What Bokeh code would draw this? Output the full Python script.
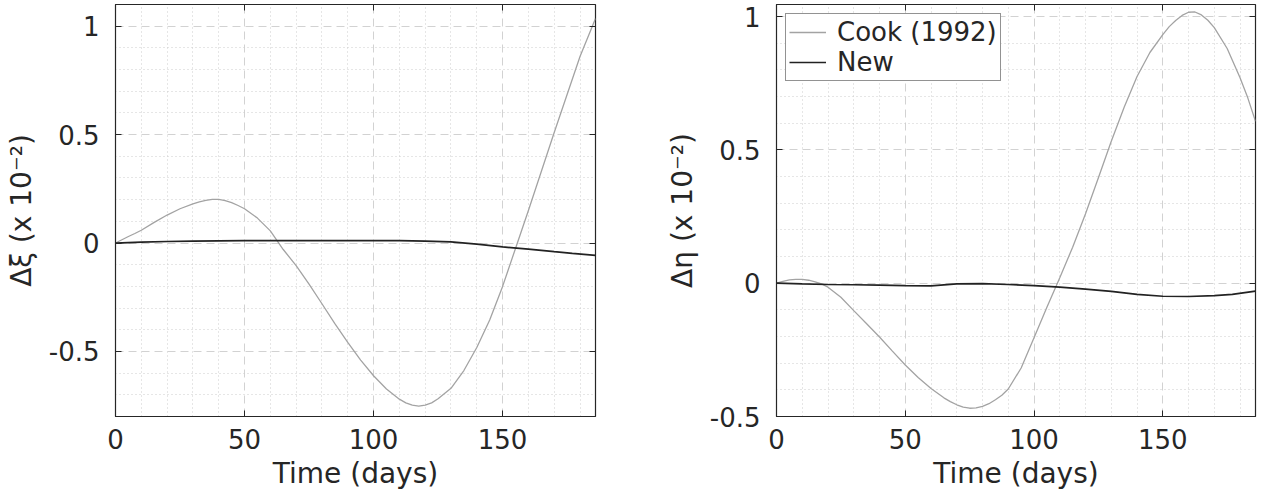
from bokeh.plotting import figure
from bokeh.models import LinearAxis, FixedTicker, Range1d, CustomLabelingPolicy
from bokeh.layouts import row
from bokeh.embed import file_html
from bokeh.resources import INLINE

# ---------------- data ----------------
t_xi_cook = [0, 2.5, 5, 7.5, 10, 15, 20, 25, 30, 32.5, 35, 37.5, 40, 42.5, 45, 47.5, 50, 55, 60,
             65, 70, 75, 80, 85, 90, 95, 100, 105, 110, 112.5, 115, 117.5, 120, 122.5, 125,
             130, 135, 140, 145, 150, 155, 160, 165, 170, 175, 180, 186]
xi_cook = [0, 0.015, 0.030, 0.044, 0.059, 0.095, 0.129, 0.158, 0.181, 0.190, 0.197, 0.201,
           0.201, 0.196, 0.186, 0.173, 0.158, 0.115, 0.056, -0.030, -0.104, -0.190, -0.280,
           -0.372, -0.458, -0.540, -0.612, -0.673, -0.720, -0.737, -0.748, -0.752, -0.748,
           -0.737, -0.718, -0.670, -0.588, -0.482, -0.355, -0.200, -0.025, 0.150, 0.330,
           0.510, 0.685, 0.860, 1.035]

t_eta_cook = [0, 2.5, 5, 7.5, 10, 12.5, 15, 17.5, 20, 25, 30, 35, 40, 45, 50, 55, 60, 65, 67.5,
              70, 72.5, 75, 77.5, 80, 82.5, 85, 87.5, 90, 95, 100, 105, 110, 115, 120, 125, 130,
              135, 140, 145, 150, 152.5, 155, 157.5, 160, 162.5, 165, 167.5, 170, 175, 180, 183, 186]
eta_cook = [0, 0.007, 0.012, 0.0145, 0.014, 0.011, 0.005, -0.003, -0.015, -0.053, -0.103,
            -0.152, -0.202, -0.255, -0.307, -0.354, -0.395, -0.430, -0.444, -0.456, -0.465,
            -0.469, -0.468, -0.462, -0.452, -0.437, -0.420, -0.397, -0.318, -0.205, -0.090,
            0.020, 0.135, 0.260, 0.395, 0.532, 0.660, 0.775, 0.865, 0.932, 0.962, 0.985,
            1.004, 1.016, 1.017, 1.006, 0.986, 0.958, 0.880, 0.770, 0.695, 0.607]

t_new = [0, 10, 20, 30, 40, 50, 60, 70, 80, 90, 100, 110, 120, 130, 140, 150, 160, 170, 177, 186]
xi_new = [0, 0.004, 0.007, 0.009, 0.010, 0.011, 0.011, 0.011, 0.011, 0.011, 0.011, 0.011,
          0.009, 0.005, -0.005, -0.018, -0.028, -0.040, -0.048, -0.057]
eta_new = [0, -0.003, -0.005, -0.006, -0.007, -0.009, -0.010, -0.003, -0.002, -0.005, -0.009,
           -0.015, -0.022, -0.031, -0.042, -0.049, -0.050, -0.047, -0.042, -0.030]

x_major = [0, 50, 100, 150]
x_minor = [10, 20, 30, 40, 60, 70, 80, 90, 110, 120, 130, 140, 160, 170, 180]
y_major = [-0.5, 0, 0.5, 1]
y_labels = {-0.5: "-0.5", 0: "0", 0.5: "0.5", 1: "1"}
y_minor_left = [-0.8, -0.7, -0.6, -0.4, -0.3, -0.2, -0.1, 0.1, 0.2, 0.3, 0.4, 0.6, 0.7, 0.8, 0.9, 1.1]
y_minor_right = [-0.4, -0.3, -0.2, -0.1, 0.1, 0.2, 0.3, 0.4, 0.6, 0.7, 0.8, 0.9]

FONT = "DejaVu Sans"
AX = "#262626"
COOK_C = "#a3a3a3"
NEW_C = "#222222"


def make_fig(width, bl, br, yr, ylabel, yminor):
    p = figure(width=width, height=500, output_backend="svg", toolbar_location=None,
               x_range=Range1d(0, 186), y_range=Range1d(*yr),
               min_border_left=bl, min_border_right=br, min_border_top=2, min_border_bottom=84,
               background_fill_color="white", border_fill_color="white",
               outline_line_color=AX, outline_line_width=1.2)
    p.xaxis.ticker = FixedTicker(ticks=x_major, minor_ticks=x_minor)
    p.yaxis.ticker = FixedTicker(ticks=y_major, minor_ticks=yminor)
    p.yaxis.major_label_overrides = y_labels
    for ax in (p.xaxis[0], p.yaxis[0]):
        ax.axis_line_color = AX
        ax.major_tick_line_color = AX
        ax.major_tick_in = 6
        ax.major_tick_out = 0
        ax.minor_tick_line_color = None
        ax.major_label_text_font = FONT
        ax.major_label_text_font_size = "26px"
        ax.major_label_text_color = AX
        ax.axis_label_text_font = FONT
        ax.axis_label_text_font_size = "28px"
        ax.axis_label_text_font_style = "normal"
        ax.axis_label_text_color = AX
    p.xaxis.axis_label = "Time (days)"
    p.xaxis.major_label_standoff = 8
    p.xaxis.axis_label_standoff = 5
    p.yaxis.axis_label = ylabel
    p.yaxis.major_label_standoff = 12
    p.yaxis.axis_label_standoff = 8

    # mirrored ticks on top and right (no labels)
    for side, tk in (("above", FixedTicker(ticks=x_major)), ("right", FixedTicker(ticks=y_major))):
        a = LinearAxis(ticker=tk, axis_line_color=None, major_tick_line_color=AX,
                       major_tick_in=6, major_tick_out=0, minor_tick_line_color=None,
                       major_label_text_font_size="1px", major_label_standoff=0,
                       major_label_policy=CustomLabelingPolicy(code="return []"))
        p.add_layout(a, side)

    for g in (p.xgrid[0], p.ygrid[0]):
        g.grid_line_color = "#d2d2d2"
        g.grid_line_dash = "8 5"
        g.grid_line_width = 1
        g.minor_grid_line_color = "#cdcdcd"
        g.minor_grid_line_dash = "1 3"
        g.minor_grid_line_width = 1
    return p


p1 = make_fig(605, 115, 10, (-0.8, 1.1), "Δξ (x 10⁻²)", y_minor_left)
p1.line(t_xi_cook, xi_cook, line_color=COOK_C, line_width=1.3)
p1.line(t_new, xi_new, line_color=NEW_C, line_width=1.7)

p2 = make_fig(664, 171, 14, (-0.5, 1.045), "Δη (x 10⁻²)", y_minor_right)
p2.line(t_eta_cook, eta_cook, line_color=COOK_C, line_width=1.3, legend_label="Cook (1992)")
p2.line(t_new, eta_new, line_color=NEW_C, line_width=1.7, legend_label="New")
lg = p2.legend[0]
lg.location = "top_left"
lg.margin = 9
lg.padding = 3
lg.spacing = 0
lg.glyph_width = 37
lg.label_standoff = 11
lg.label_text_font = FONT
lg.label_text_font_size = "26px"
lg.label_text_color = AX
lg.border_line_color = AX
lg.border_line_width = 1.2
lg.background_fill_alpha = 1

layout = row(p1, p2)
open("out.html", "w").write(file_html(layout, INLINE))
